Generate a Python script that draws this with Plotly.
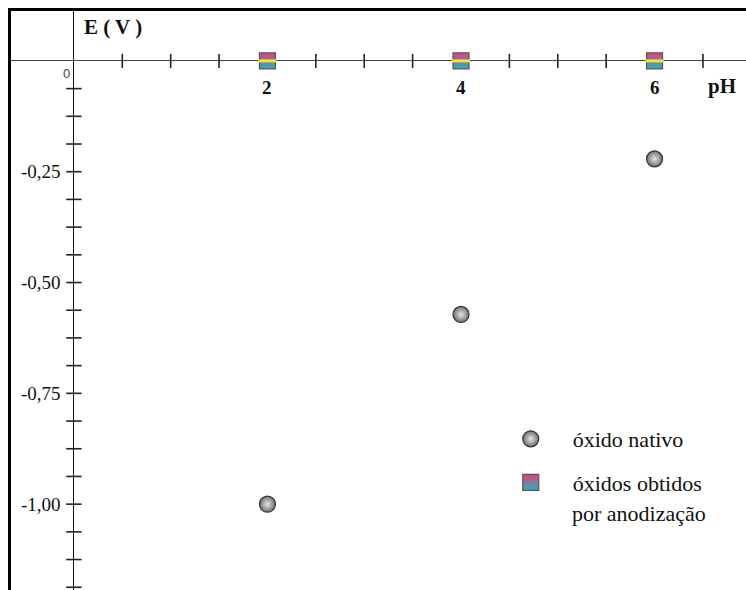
import plotly.graph_objects as go

# ---- data ----
ph = [2, 4, 6]
e_nativo = [-1.00, -0.572, -0.221]
e_anodizado = [0.0, 0.0, 0.0]
x_tick_vals = [2, 4, 6]
x_tick_text = ["2", "4", "6"]
y_tick_vals = [-0.25, -0.50, -0.75, -1.00]
y_tick_text = ["-0,25", "-0,50", "-0,75", "-1,00"]
x_minor = [0.5, 1.0, 1.5, 2.5, 3.0, 3.5, 4.5, 5.0, 5.5, 6.5]
y_minor = [-0.0625 * k for k in range(1, 20)]
name_nativo = "óxido nativo"
name_anod_l1 = "óxidos obtidos"
name_anod_l2 = "por anodização"
x_title = "pH"
y_title = "E ( V )"

SERIF = "Liberation Serif"

fig = go.Figure()

# tick marks crossing the axes
fig.add_trace(go.Scatter(x=x_minor, y=[0] * len(x_minor), mode="markers",
                         marker=dict(symbol="line-ns", size=10, line=dict(color="#222", width=1.6)),
                         showlegend=False, hoverinfo="skip"))
fig.add_trace(go.Scatter(x=[0] * len(y_minor), y=y_minor, mode="markers",
                         marker=dict(symbol="line-ew", size=11, line=dict(color="#222", width=1.6)),
                         showlegend=False, hoverinfo="skip"))

fig.add_trace(go.Scatter(
    x=ph, y=e_nativo, mode="markers", name=name_nativo, legendgroup="a",
    marker=dict(symbol="circle", size=16, color="#6e6e6e",
                gradient=dict(type="radial", color="#e6e6e6"),
                line=dict(color="#333", width=1.2))))
fig.add_trace(go.Scatter(
    x=ph, y=e_anodizado, mode="markers", name=name_anod_l1, legendgroup="b",
    marker=dict(symbol="square", size=16, color="#e0407e",
                gradient=dict(type="vertical", color="#2ab3b8"),
                line=dict(color="#555", width=1.2))))
fig.add_trace(go.Scatter(
    x=ph, y=e_anodizado, mode="markers", showlegend=False, hoverinfo="skip",
    marker=dict(symbol="line-ew", size=13, line=dict(color="#f2e23a", width=3))))

ann = []
for v, t in zip(x_tick_vals, x_tick_text):
    ann.append(dict(x=v, y=0, xref="x", yref="y", text="<b>" + t + "</b>", showarrow=False,
                    yanchor="top", yshift=-14,
                    font=dict(family=SERIF, size=19, color="#111")))
for v, t in zip(y_tick_vals, y_tick_text):
    ann.append(dict(x=0, y=v, xref="x", yref="y", text=t, showarrow=False,
                    xanchor="right", xshift=-11,
                    font=dict(family=SERIF, size=19, color="#111")))
ann.append(dict(x=0, y=0, xref="x", yref="y", text="0", showarrow=False,
                xanchor="right", yanchor="top", xshift=-2, yshift=-3,
                font=dict(family="Liberation Sans", size=13, color="#444")))
ann.append(dict(x=1, y=0, xref="paper", yref="y", text="<b>" + x_title + "</b>", showarrow=False,
                xanchor="right", yanchor="top", xshift=-8, yshift=-11,
                font=dict(family=SERIF, size=21, color="#111")))
ann.append(dict(x=0, y=0, xref="x", yref="y", text="<b>" + y_title + "</b>", showarrow=False,
                xanchor="left", yanchor="bottom", xshift=8, yshift=20,
                font=dict(family=SERIF, size=21, color="#111")))
# second line of the legend entry
ann.append(dict(x=0.7633, y=0.1313, xref="paper", yref="paper", text=name_anod_l2,
                showarrow=False, xanchor="left", yanchor="middle", xshift=-2,
                font=dict(family=SERIF, size=22, color="#111")))

fig.update_layout(
    width=746, height=590,
    margin=dict(l=11, r=0, t=11, b=0),
    paper_bgcolor="white", plot_bgcolor="white",
    font=dict(family=SERIF),
    xaxis=dict(range=[-0.650, 6.945], side="top", showline=True, linecolor="black",
               linewidth=2.5, showgrid=False, showticklabels=False, ticks="",
               zeroline=True, zerolinecolor="#111", zerolinewidth=1.3),
    yaxis=dict(range=[-1.1937, 0.1126], showline=True, linecolor="black",
               linewidth=2.5, showgrid=False, showticklabels=False, ticks="",
               zeroline=True, zerolinecolor="#444", zerolinewidth=1.3),
    annotations=ann,
    showlegend=True,
    legend=dict(x=0.65, y=0.297, xanchor="left", yanchor="top",
                font=dict(family=SERIF, size=22, color="#111"),
                bgcolor="rgba(0,0,0,0)", itemwidth=74, tracegroupgap=12,
                valign="middle"),
)

fig.write_html("out.html")
